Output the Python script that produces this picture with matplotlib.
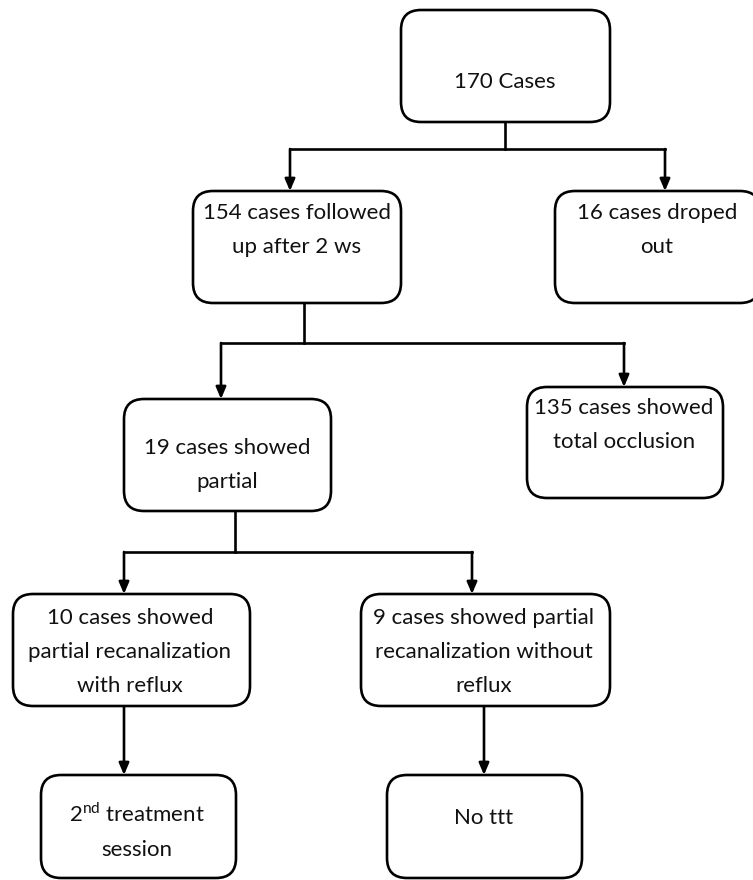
import matplotlib.pyplot as plt
from matplotlib.patches import FancyBboxPatch

plt.rcParams['font.family'] = ['Lato', 'DejaVu Sans']
plt.rcParams['mathtext.fontset'] = 'custom'
plt.rcParams['mathtext.rm'] = 'Lato'

# box texts
labels = [
    "170 Cases",
    "154 cases followed\nup after 2 ws",
    "16 cases droped\nout",
    "19 cases showed\npartial",
    "135 cases showed\ntotal occlusion",
    "10 cases showed\npartial recanalization\nwith reflux",
    "9 cases showed partial\nrecanalization without\nreflux",
    "2$^{\\mathrm{nd}}$ treatment\nsession",
    "No ttt",
]

# layout (pixels): left, top, right, bottom
boxes = [
    (401, 10, 610, 122),
    (193, 191, 401, 303),
    (555, 191, 760, 303),
    (124, 399, 331, 511),
    (527, 387, 723, 498),
    (13, 594, 250, 706),
    (361, 594, 610, 706),
    (41, 775, 236, 878),
    (387, 775, 582, 878),
]
# text anchor (x, y centre)
text_pos = [
    (505, 82), (297, 230), (657, 230), (227, 465), (624, 425),
    (130, 652), (484, 652), (137, 831), (484, 818),
]

# connectors: (stem x, stem top y, bar y, [child arrow x's], child tops)
branches = [
    (505, 122, 149, [290, 665], [191, 191]),
    (304, 303, 343, [221, 624], [399, 387]),
    (235, 511, 552, [124, 472], [594, 594]),
]
singles = [(124, 706, 775), (484, 706, 775)]

fig = plt.figure(figsize=(7.53, 8.80), dpi=100)
ax = fig.add_axes([0, 0, 1, 1])
ax.set_xlim(0, 753)
ax.set_ylim(880, 0)
ax.axis('off')

lw = 1.9
for (l, t, r, b) in boxes:
    p = FancyBboxPatch((l, t), r - l, b - t,
                       boxstyle="round,pad=0,rounding_size=20",
                       fc='white', ec='black', lw=lw, zorder=2)
    ax.add_patch(p)

for txt, (x, y) in zip(labels, text_pos):
    ax.text(x, y, txt, ha='center', va='center', fontsize=16,
            color='#111111', linespacing=1.9, zorder=3)


def arrow(x, y0, y1):
    ax.annotate('', xy=(x, y1), xytext=(x, y0),
                arrowprops=dict(arrowstyle='-|>,head_length=0.7,head_width=0.3',
                                lw=lw, color='black', shrinkA=0, shrinkB=0),
                zorder=1)


for sx, sy, by, xs, tops in branches:
    ax.plot([sx, sx], [sy, by], color='black', lw=lw, zorder=1)
    ax.plot([min(xs), max(xs)], [by, by], color='black', lw=lw,
            solid_capstyle='projecting', zorder=1)
    for cx, ct in zip(xs, tops):
        arrow(cx, by, ct)

for x, y0, y1 in singles:
    arrow(x, y0, y1)

fig.savefig('out.png', dpi=100, facecolor='white')
